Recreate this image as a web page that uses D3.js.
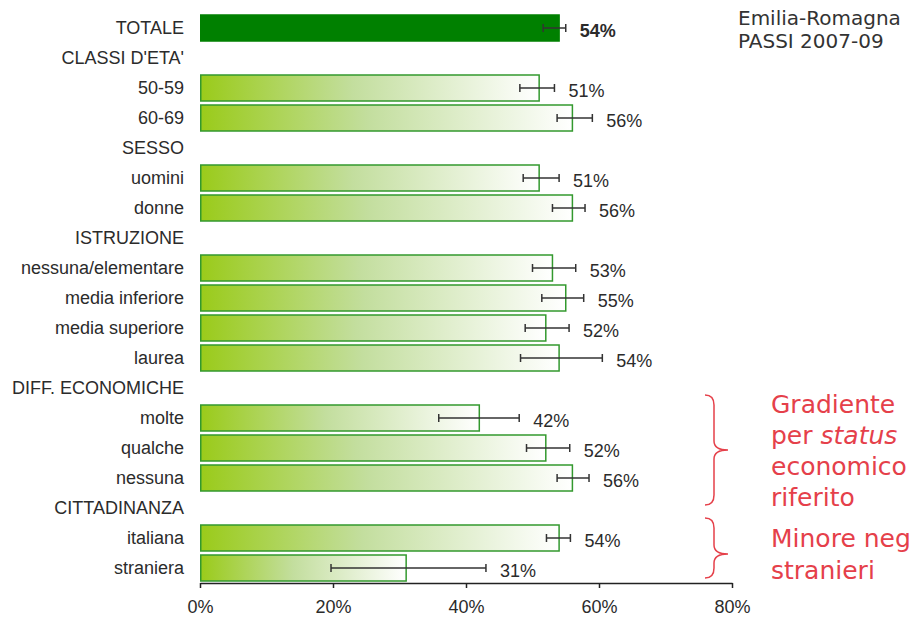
<!DOCTYPE html>
<html>
<head>
<meta charset="utf-8">
<script src="https://cdn.jsdelivr.net/npm/d3@7"></script>
<style>
  html, body { margin: 0; padding: 0; background: #fff; }
  svg { display: block; }
</style>
</head>
<body>
<svg id="chart" width="909" height="618"></svg>
<script>
// Row labels (section headers have no value)
const categories = ["TOTALE", "CLASSI D'ETA'", "50-59", "60-69", "SESSO", "uomini", "donne",
  "ISTRUZIONE", "nessuna/elementare", "media inferiore", "media superiore", "laurea",
  "DIFF. ECONOMICHE", "molte", "qualche", "nessuna", "CITTADINANZA", "italiana", "straniera"];
// Prevalence (%)
const values = [54, null, 51, 56, null, 51, 56, null, 53, 55, 52, 54, null, 42, 52, 56, null, 54, 31];
// 95% confidence interval
const lower = [51.6, null, 48.1, 53.7, null, 48.6, 53.0, null, 50.0, 51.4, 48.9, 48.2, null, 35.9, 49.1, 53.7, null, 52.1, 19.7];
const upper = [55.0, null, 53.3, 59.0, null, 54.0, 57.9, null, 56.5, 57.7, 55.5, 60.5, null, 48.0, 55.6, 58.5, null, 55.7, 43.0];
const xTicks = [0, 20, 40, 60, 80];
const sourceLines = ["Emilia-Romagna", "PASSI 2007-09"];
const noteEconomic = [["Gradiente"], ["per ", "status"], ["economico"], ["riferito"]];
const noteForeign = ["Minore negli", "stranieri"];

const svg = d3.select("#chart");
const rows = categories.map((c, i) => ({ c, i, v: values[i], lo: lower[i], hi: upper[i] }));

const x = d3.scaleLinear().domain([0, 80]).range([200, 732]);
const y = d3.scaleBand().domain(d3.range(categories.length)).range([13, 583]).padding(0);
const bw = y.bandwidth();

// Bar gradient: yellow-green fading to white across each bar
const defs = svg.append("defs");
const grad = defs.append("linearGradient").attr("id", "barFade")
  .attr("x1", "0").attr("y1", "0").attr("x2", "1").attr("y2", "0");
grad.append("stop").attr("offset", "0").attr("stop-color", "#9acb1a");
grad.append("stop").attr("offset", "0.45").attr("stop-color", "#c3de9e");
grad.append("stop").attr("offset", "1").attr("stop-color", "#ffffff");

const font = "'Liberation Sans', Arial, sans-serif";

// Category labels
svg.append("g").selectAll("text").data(rows).join("text")
  .attr("x", 184)
  .attr("y", d => y(d.i) + bw / 2)
  .attr("dy", "0.36em")
  .attr("text-anchor", "end")
  .attr("font-family", font)
  .attr("font-size", 18)
  .attr("fill", "#2b2b2b")
  .text(d => d.c);

const data = rows.filter(d => d.v != null);

// Bars
svg.append("g").selectAll("rect").data(data).join("rect")
  .attr("x", x(0) + 0.75)
  .attr("y", d => y(d.i) + 2)
  .attr("width", d => x(d.v) - x(0) - 0.75)
  .attr("height", bw - 4)
  .attr("fill", d => d.i === 0 ? "#008000" : "url(#barFade)")
  .attr("stroke", d => d.i === 0 ? "#008000" : "#33992e")
  .attr("stroke-width", 1.5);

// Error bars
const eb = svg.append("g").attr("stroke", "#333").attr("stroke-width", 1.5).attr("fill", "none");
eb.selectAll("line.ci").data(data).join("line").attr("class", "ci")
  .attr("x1", d => x(d.lo)).attr("x2", d => x(d.hi))
  .attr("y1", d => y(d.i) + bw / 2).attr("y2", d => y(d.i) + bw / 2);
eb.selectAll("line.lo").data(data).join("line").attr("class", "lo")
  .attr("x1", d => x(d.lo)).attr("x2", d => x(d.lo))
  .attr("y1", d => y(d.i) + bw / 2 - 4).attr("y2", d => y(d.i) + bw / 2 + 4);
eb.selectAll("line.hi").data(data).join("line").attr("class", "hi")
  .attr("x1", d => x(d.hi)).attr("x2", d => x(d.hi))
  .attr("y1", d => y(d.i) + bw / 2 - 4).attr("y2", d => y(d.i) + bw / 2 + 4);

// Value labels
svg.append("g").selectAll("text").data(data).join("text")
  .attr("x", d => x(d.hi) + 14)
  .attr("y", d => y(d.i) + bw / 2 + 3)
  .attr("dy", "0.36em")
  .attr("font-family", font)
  .attr("font-size", 18)
  .attr("font-weight", d => d.i === 0 ? "bold" : "normal")
  .attr("fill", "#2b2b2b")
  .text(d => d.v + "%");

// X axis
const axis = svg.append("g")
  .attr("transform", `translate(0,583)`)
  .call(d3.axisBottom(x).tickValues(xTicks).tickFormat(d => d + "%").tickSize(5).tickSizeOuter(0).tickPadding(12));
axis.select(".domain").attr("stroke", "#222").attr("stroke-width", 1.5);
axis.selectAll(".tick line").attr("stroke", "#222").attr("stroke-width", 1.5);
axis.selectAll(".tick text").attr("font-family", font).attr("font-size", 18).attr("fill", "#2b2b2b");

// Source note
svg.append("g").selectAll("text").data(sourceLines).join("text")
  .attr("x", 738)
  .attr("y", (d, i) => 25 + i * 23)
  .attr("font-family", "'DejaVu Sans', Verdana, sans-serif")
  .attr("font-size", 20)
  .attr("fill", "#333")
  .text(d => d);

// Annotations
const red = "#e5404a";
function brace(top, tip, bottom) {
  const p = d3.path();
  const xe = 705, xb = 714, xt = 728;
  p.moveTo(xe, top);
  p.quadraticCurveTo(xb, top, xb, top + 10);
  p.lineTo(xb, tip - 9);
  p.quadraticCurveTo(xb, tip, xt, tip);
  p.quadraticCurveTo(xb, tip, xb, tip + 9);
  p.lineTo(xb, bottom - 10);
  p.quadraticCurveTo(xb, bottom, xe, bottom);
  return p.toString();
}
svg.append("path").attr("d", brace(y(13) - 8, y(14) + bw / 2 + 2, y(15) + bw + 12))
  .attr("fill", "none").attr("stroke", red).attr("stroke-width", 1.5);
svg.append("path").attr("d", brace(y(17) - 5, y(17) + bw + 1, y(18) + bw - 5))
  .attr("fill", "none").attr("stroke", red).attr("stroke-width", 1.5);

const note = svg.append("g")
  .attr("font-family", "'DejaVu Sans', Verdana, sans-serif")
  .attr("font-size", 25)
  .attr("fill", red);
noteEconomic.forEach((parts, i) => {
  const t = note.append("text").attr("x", 771).attr("y", 413 + i * 31);
  parts.forEach((p, j) => t.append("tspan").attr("font-style", j === 1 ? "italic" : "normal").text(p));
});
noteForeign.forEach((s, i) => {
  note.append("text").attr("x", 771).attr("y", 547 + i * 32).text(s);
});
</script>
</body>
</html>
